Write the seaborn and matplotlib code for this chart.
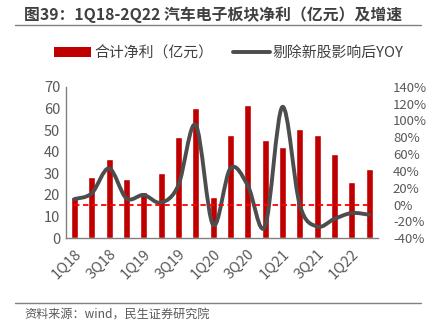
import numpy as np
import pandas as pd
import matplotlib
matplotlib.use("Agg")
import matplotlib.pyplot as plt
from matplotlib.path import Path
from matplotlib.patches import PathPatch
from matplotlib.lines import Line2D
from matplotlib.patches import Patch
import seaborn as sns

quarters = ["1Q18", "2Q18", "3Q18", "4Q18", "1Q19", "2Q19", "3Q19", "4Q19",
            "1Q20", "2Q20", "3Q20", "4Q20", "1Q21", "2Q21", "3Q21", "4Q21",
            "1Q22", "2Q22"]
net_profit = [19.2, 28.4, 36.5, 27.2, 21.2, 30.1, 46.8, 60.0, 18.9,
              47.7, 61.4, 45.4, 42.3, 50.3, 47.5, 39.0, 26.0, 31.8]
yoy = [6.6, 13.4, 43.0, 7.5, 11.4, 2.3, 23.0, 94.5, -24.0,
       43.0, 23.0, -26.0, 116.0, 0.0, -26.0, -17.0, -10.0, -12.0]
zero_ref = [0.0] * len(quarters)
tick_labels = quarters[::2]

sns.set_theme(style="white")
plt.rcParams['font.family'] = ['Noto Sans CJK SC', 'DejaVu Sans']

W, H = 433, 329
fig = plt.figure(figsize=(W / 100, H / 100), dpi=100)
ax = fig.add_axes([65.7 / W, 1 - 238.3 / H, (377.7 - 65.7) / W, (238.3 - 86.7) / H])

df = pd.DataFrame({"q": quarters, "v": net_profit, "yoy": yoy, "z": zero_ref})
df["i"] = np.arange(len(df))

sns.barplot(data=df, x="q", y="v", color="#C00000", saturation=1, width=0.4, ax=ax)
ax.set_xlim(-0.5, len(quarters) - 0.5)
ax.set_ylim(0, 70)
ax.set_yticks(range(0, 71, 10))
ax.set_xticks(range(0, len(quarters), 2))
ax.set_xticklabels(tick_labels, rotation=45, ha="right", rotation_mode="anchor")
ax.tick_params(axis="both", length=0, labelsize=10.5, colors="#595959", pad=4)
ax.tick_params(axis="x", pad=6)
ax.set_xlabel("")
ax.set_ylabel("")
for s in ["top", "right"]:
    ax.spines[s].set_visible(False)
for s in ["left", "bottom"]:
    ax.spines[s].set_color("#808080")
    ax.spines[s].set_linewidth(1.0)

ax2 = ax.twinx()
ax2.set_ylim(-40, 140)
ax2.set_yticks(range(-40, 141, 20))
ax2.set_yticklabels([f"{t}%" for t in range(-40, 141, 20)])
ax2.tick_params(axis="y", length=0, labelsize=9.5, colors="#595959", pad=11)
for s in ax2.spines.values():
    s.set_visible(False)

sns.lineplot(data=df, x="i", y="z", ax=ax2, color="#FF0000", linestyle=(0, (3, 2)),
             linewidth=1.3)

# smoothed line (Catmull-Rom -> cubic Bezier) through the data points
x = df["i"].to_numpy(float)
y = df["yoy"].to_numpy(float)
n = len(x)
verts = [(x[0], y[0])]
codes = [Path.MOVETO]
for k in range(n - 1):
    p0 = np.array([x[max(k - 1, 0)], y[max(k - 1, 0)]])
    p1 = np.array([x[k], y[k]])
    p2 = np.array([x[k + 1], y[k + 1]])
    p3 = np.array([x[min(k + 2, n - 1)], y[min(k + 2, n - 1)]])
    c1 = p1 + (p2 - p0) / 6
    c2 = p2 - (p3 - p1) / 6
    verts += [tuple(c1), tuple(c2), tuple(p2)]
    codes += [Path.CURVE4] * 3
ax2.add_patch(PathPatch(Path(verts, codes), facecolor="none", edgecolor="#4D4D4D",
                        linewidth=2.8, capstyle="round", joinstyle="round"))
ax2.set_xlim(-0.5, len(quarters) - 0.5)
ax2.set_xlabel("")
ax2.set_ylabel("")
if ax2.get_legend():
    ax2.get_legend().remove()

# title
fig.text(24 / W, 1 - 15 / H, "图39：1Q18-2Q22 汽车电子板块净利（亿元）及增速",
         fontsize=11.4, fontweight="bold", color="#404040", va="center", ha="left")
fig.add_artist(Line2D([15 / W, 421 / W], [1 - 24.5 / H] * 2, color="#808080", lw=1.0))

# legend
handles = [Patch(facecolor="#C00000", edgecolor="none"),
           Line2D([0], [0], color="#4D4D4D", lw=2.8)]
leg = fig.legend(handles, ["合计净利（亿元）", "剔除新股影响后YOY"],
                 loc="center", bbox_to_anchor=(229 / W, 1 - 53 / H), ncol=2,
                 frameon=False, fontsize=10.7, handlelength=2.5, handletextpad=0.2,
                 columnspacing=1.3, labelcolor="#404040")

# footer
fig.add_artist(Line2D([15 / W, 421 / W], [1 - 302.7 / H] * 2, color="#808080", lw=1.0))
fig.text(24 / W, 1 - 315 / H, "资料来源：wind，民生证券研究院", fontsize=8.7,
         color="#595959", va="center", ha="left")

fig.savefig("out.png", dpi=100)
